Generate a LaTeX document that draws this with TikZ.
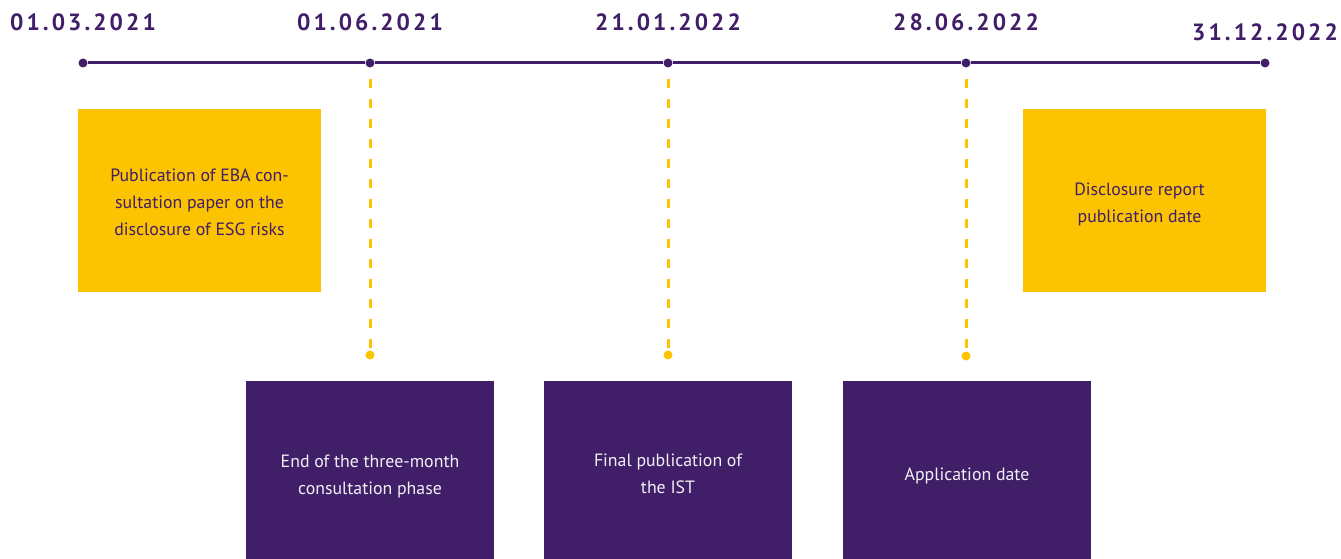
\documentclass[tikz,border=0pt]{standalone}
\usepackage{fontspec}
\setmainfont{PT Sans}
\usetikzlibrary{positioning}
\definecolor{esgpurple}{HTML}{401F68}
\definecolor{esgyellow}{HTML}{FCC300}

\begin{document}
\begin{tikzpicture}[x=1pt, y=-1pt,
    dot/.style={circle, fill=esgpurple, inner sep=0pt, minimum size=9pt},
    enddot/.style={circle, fill=esgyellow, inner sep=0pt, minimum size=9pt},
    date/.style={inner sep=0pt, text=esgpurple,
        font=\fontsize{23.5}{27}\selectfont\bfseries\addfontfeatures{LetterSpace=13}},
    ybox/.style={fill=esgyellow, minimum width=243pt, minimum height=183pt},
    pbox/.style={fill=esgpurple, minimum width=248pt, minimum height=178pt},
    ytext/.style={text=esgpurple, align=center, font=\fontsize{17.8}{27}\selectfont},
    ptext/.style={text=white!93!esgpurple, align=center, font=\fontsize{17.8}{27}\selectfont},
    axis/.style={esgpurple, line width=3pt},
    stem/.style={esgyellow, line width=3pt, dash pattern=on 9pt off 11pt, dash phase=9pt}
]
\useasboundingbox (0,0) rectangle (1341,559);

% timeline
\node[dot] (d1) at (83,63) {};
\node[dot] (d2) at (370,63) {};
\node[dot] (d3) at (668,63) {};
\node[dot] (d4) at (966,63) {};
\node[dot] (d5) at (1265,63) {};
\draw[axis] (d1) -- (d2) -- (d3) -- (d4) -- (d5);

\node[date, above=27pt of d1] (t1) {01.03.2021};
\node[date, above=27pt of d2] (t2) {01.06.2021};
\node[date, above=27pt of d3] (t3) {21.01.2022};
\node[date, above=27pt of d4] (t4) {28.06.2022};
\node[date, above=17pt of d5] (t5) {31.12.2022};

% dashed stems down to the lower boxes
\node[enddot] (e2) at (370,355) {};
\node[enddot] (e3) at (668,355) {};
\node[enddot] (e4) at (966,356) {};
\draw[stem] (d2) -- (e2);
\draw[stem] (d3) -- (e3);
\draw[stem] (d4) -- (e4);

% boxes
\node[ybox] (b1) at (199.5,200.5) {};
\node[ybox] (b5) at (1144.5,200.5) {};
\node[pbox] (b2) at (370,470) {};
\node[pbox] (b3) at (668,470) {};
\node[pbox] (b4) at (967,470) {};

\node[ytext] (l1) at ([yshift=-2pt]b1.center) {Publication of EBA con-\\sultation paper on the\\disclosure of ESG risks};
\node[ytext] (l5) at ([xshift=-5pt,yshift=-3.5pt]b5.center) {Disclosure report\\publication date};
\node[ptext] (l2) at ([yshift=-6pt]b2.center) {End of the three-month\\consultation phase};
\node[ptext] (l3) at ([yshift=-4pt]b3.center) {Final publication of\\the IST};
\node[ptext] (l4) at ([yshift=-5.5pt]b4.center) {Application date};
\end{tikzpicture}
\end{document}
